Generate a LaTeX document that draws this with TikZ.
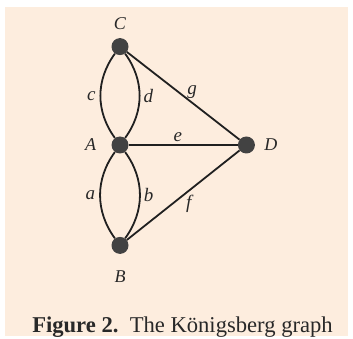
\documentclass[tikz,border=0pt]{standalone}
\usepackage{fontspec}
\setmainfont{Liberation Serif}
\usetikzlibrary{positioning}
\definecolor{paperBeige}{RGB}{253, 237, 222}
\definecolor{vertexGray}{RGB}{66, 66, 66}
\definecolor{edgeDark}{RGB}{32, 32, 32}
\definecolor{inkDark}{RGB}{40, 40, 40}

\begin{document}
\begin{tikzpicture}[
  x=1pt, y=-1pt,
  vertex/.style={
    circle,
    fill=vertexGray,
    minimum size=17pt,
    inner sep=0pt
  },
  edge/.style={line width=1.8pt,edgeDark},
  lbl/.style={font=\fontsize{18}{18}\selectfont\itshape,text=inkDark,inner sep=1pt},
  elbl/.style={font=\fontsize{19}{19}\selectfont\itshape,text=inkDark,inner sep=1pt}
]
  \useasboundingbox (0,0) rectangle (353,339);
  \fill[paperBeige] (5,7) rectangle (348,336);

  \node[vertex,label={[lbl,label distance=14pt]left:A}] (A) at (120,145) {};
  \node[vertex,above=81pt of A,label={[lbl,label distance=7pt]above:C}] (C) {};
  \node[vertex,below=83pt of A,label={[lbl,label distance=15pt]below:B}] (B) {};
  \node[vertex,right=109pt of A,label={[lbl,label distance=8pt]right:D}] (D) {};

  \draw[edge] (A) to[bend left=36] node[elbl,left=3pt] (ec) {c} (C);
  \draw[edge] (A) to[bend right=36] node[elbl,right=2pt] (ed) {d} (C);
  \draw[edge] (B) to[bend left=36] node[elbl,left=3pt] (ea) {a} (A);
  \draw[edge] (B) to[bend right=36] node[elbl,right=2pt] (eb) {b} (A);
  \draw[edge] (C) -- node[elbl,above=2pt,pos=0.58] (eg) {g} (D);
  \draw[edge] (A) -- node[elbl,above=1pt,pos=0.45] (ee) {e} (D);
  \draw[edge] (B) -- node[elbl,below=3pt,pos=0.55] (ef) {f} (D);

  \node[anchor=base,text=inkDark,font=\fontsize{22.6}{22.6}\selectfont] (caption) at (182.5,332)
    {\textbf{Figure 2.}\ \ The Königsberg graph};
\end{tikzpicture}
\end{document}
